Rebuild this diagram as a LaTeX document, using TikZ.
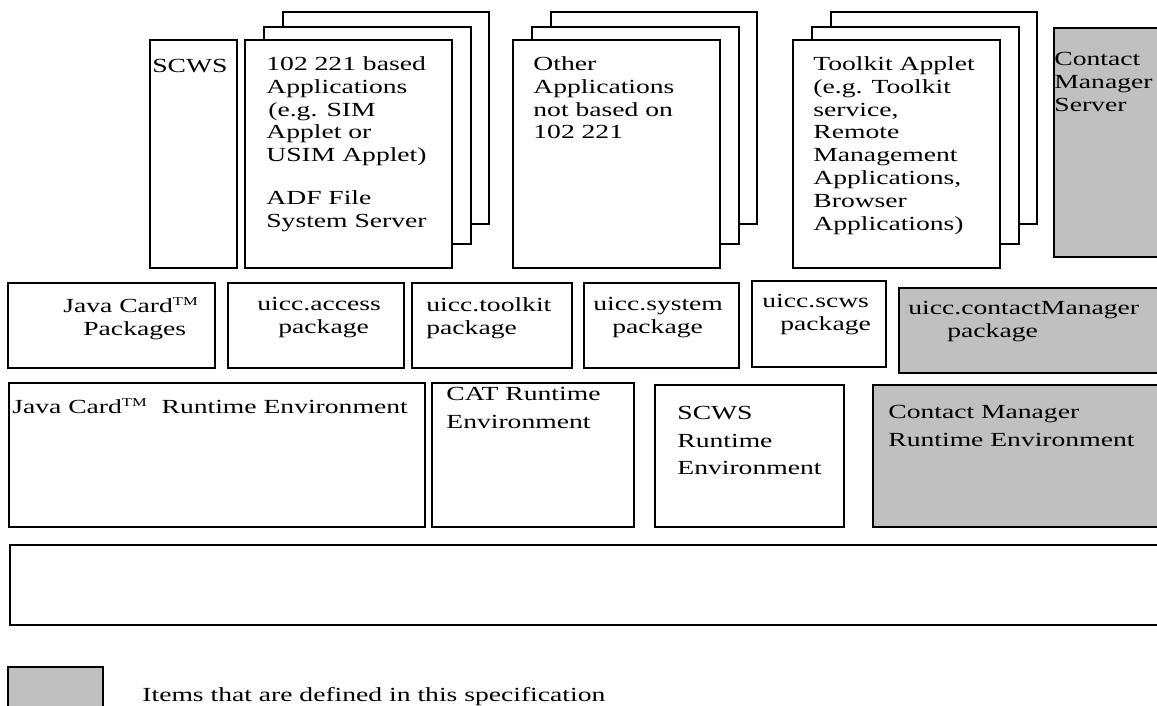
\documentclass[tikz,border=0pt]{standalone}
\usepackage{fontspec}
\setmainfont{Liberation Serif}[FakeStretch=1.38]
\usetikzlibrary{fit}
\definecolor{specgray}{RGB}{192,192,192}
\newcommand{\tmk}{\textsuperscript{\fontsize{6}{6}\selectfont TM}}
\tikzset{
  layer/.style={draw, line width=0.9pt, fill=white, inner sep=0pt},
  spec/.style={layer, fill=specgray},
  lbl/.style={anchor=north west, inner sep=0pt, align=left,
    font=\fontsize{10}{11.45}\selectfont, execute at begin node=\strut},
  lblrt/.style={lbl, font=\fontsize{10}{13.75}\selectfont}
}
\begin{document}
\begin{tikzpicture}[x=0.5pt, y=-0.5pt]
\useasboundingbox (0,0) rectangle (1157,706);

% applications
\node[layer, fit={(150,40) (237,268)}] (scws) {};
\foreach \s/\x in {ts/245, oa/513, tk/793} {
  \node[layer, fit={(\x+38,12) (\x+244,224)}] (\s3) {};
  \node[layer, fit={(\x+19,27) (\x+226,244)}] (\s2) {};
  \node[layer, fit={(\x,40) (\x+207,268)}] (\s1) {};
}
\node[spec, fit={(1054,28) (1165,257)}] (cms) {};

\node[lbl] (scwsT) at (152,56) {SCWS};
\node[lbl] (tsT) at (266,56) {102 221 based\\Applications\\\hspace*{1pt}(e.g. SIM\\Applet or\\USIM Applet)\\[10pt]ADF File\\System Server};
\node[lbl] (oaT) at (533,56) {Other\\Applications\\not based on\\102 221};
\node[lbl] (tkT) at (813,56) {Toolkit Applet\\(e.g. Toolkit\\service,\\Remote\\Management\\Applications,\\Browser\\Applications)};
\node[lbl] (cmsT) at (1054,52) {Contact\\Manager\\Server};

% packages
\node[layer, fit={(8,283) (215,368)}] (jcpk) {};
\node[layer, fit={(228,283) (404,368)}] (acc) {};
\node[layer, fit={(412,283) (572,368)}] (tlk) {};
\node[layer, fit={(584,283) (739,368)}] (sys) {};
\node[layer, fit={(752,281) (886,367)}] (scp) {};
\node[spec, fit={(899,288) (1165,373)}] (cmp) {};

\node[lbl] (jcpkT) at (63,297) {Java Card\tmk\\\hspace*{10pt}Packages};
\node[lbl] (accT) at (257,297) {uicc.access\\\hspace*{10.5pt}package};
\node[lbl] (tlkT) at (426,297) {uicc.toolkit\\package};
\node[lbl] (sysT) at (593,297) {uicc.system\\\hspace*{9.5pt}package};
\node[lbl] (scpT) at (762,294) {uicc.scws\\\hspace*{9pt}package};
\node[lbl] (cmpT) at (908,301) {uicc.contactManager\\\hspace*{19.5pt}package};

% runtime environments
\node[layer, fit={(9,383) (425,527)}] (jcre) {};
\node[layer, fit={(432,383) (634,527)}] (cat) {};
\node[layer, fit={(655,385) (844,527)}] (scre) {};
\node[spec, fit={(873,385) (1165,527)}] (cmre) {};

\node[lblrt] (jcreT) at (12,394) {Java Card\tmk\ \ Runtime Environment};
\node[lblrt] (catT) at (446,387) {CAT Runtime\\Environment};
\node[lblrt] (screT) at (677,406) {SCWS\\Runtime\\Environment};
\node[lblrt] (cmreT) at (888,405) {Contact Manager\\Runtime Environment};

% platform
\node[layer, fit={(10,545) (1165,625)}] (os) {};

% legend
\node[spec, fit={(8,667) (103,715)}] (key) {};
\node[lbl] (keyT) at (142,685) {Items that are defined in this specification};
\end{tikzpicture}
\end{document}
